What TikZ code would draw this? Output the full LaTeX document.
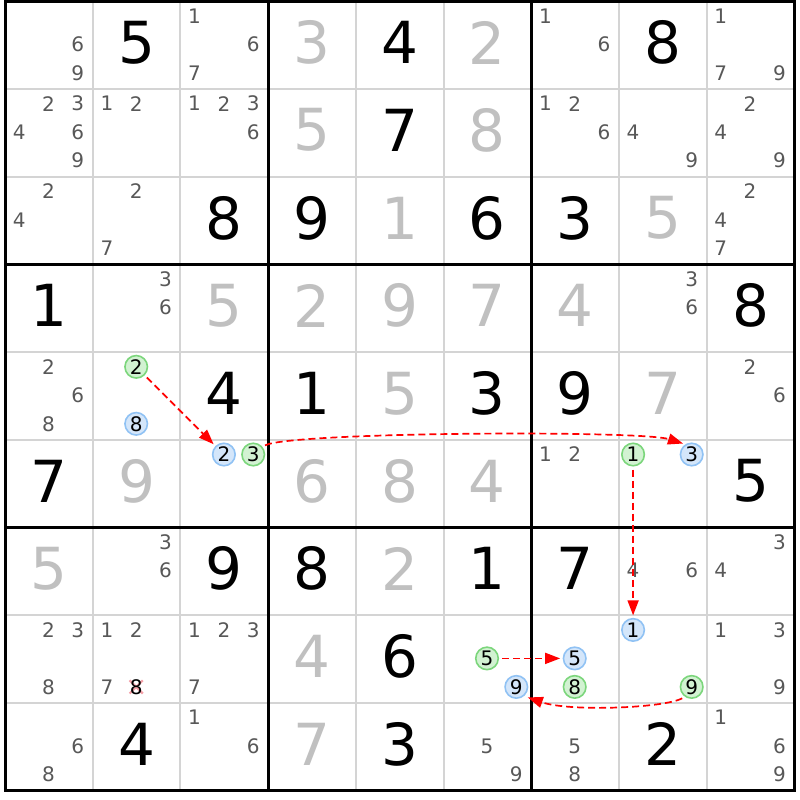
\documentclass[tikz,border=0pt]{standalone}
\usepackage{fontspec}
\usetikzlibrary{arrows.meta,shapes.misc}
\newfontfamily\dejavu{DejaVu Sans}
\newcommand\bigfont{\dejavu\fontsize{58}{58}\selectfont}
\newcommand\candfont{\dejavu\fontsize{20}{20}\selectfont}
\definecolor{candgray}{HTML}{585858}
\definecolor{givengray}{HTML}{C0C0C0}
\definecolor{gridgray}{HTML}{D4D4D4}
\definecolor{ringgreen}{HTML}{7CD67C}
\definecolor{fillgreen}{HTML}{D2F2D2}
\definecolor{ringblue}{HTML}{90C2F4}
\definecolor{fillblue}{HTML}{D4E6FA}
\definecolor{crosspink}{HTML}{F4A0A8}
\newcommand\gx{5}
\newcommand\gy{1.5}
\newcommand\cellsz{87.7}
\newcommand\cpos[3]{%
  \pgfmathsetmacro\px{\gx+(#2-1)*\cellsz+14.2+mod(#3-1,3)*29.3}%
  \pgfmathsetmacro\py{\gy+(#1-1)*\cellsz+14.5+floor((#3-1)/3)*28.5}}
\newcommand\cands[3]{%
  \foreach \dd in {#3}{%
    \cpos{#1}{#2}{\dd}%
    \node[cand] (k-#1-#2-\dd) at (\px,\py) {\dd};
  }}
\newcommand\ringd[4]{% style r c d
  \cpos{#2}{#3}{#4}%
  \node[#1] (r#2#3#4) at (\px,\py) {#4};}
\newcommand\bigd[4]{% r c digit style
  \node[#4] (n-#1-#2) at ({\gx+(#2-0.5)*\cellsz},{\gy+(#1-1)*\cellsz+41}) {#3};}
\tikzset{
  cand/.style={font=\candfont, text=candgray, inner sep=0pt},
  solved/.style={font=\bigfont, text=black, inner sep=0pt},
  given/.style={font=\bigfont, text=givengray, inner sep=0pt},
  gring/.style={circle, draw=ringgreen, fill=fillgreen, line width=1.6pt,
    minimum size=22.5pt, inner sep=0pt, font=\candfont, text=black},
  bring/.style={circle, draw=ringblue, fill=fillblue, line width=1.6pt,
    minimum size=22.5pt, inner sep=0pt, font=\candfont, text=black},
  thinline/.style={draw=gridgray, line width=2pt},
  thickline/.style={draw=black, line width=3pt},
  arr/.style={draw=red, line width=1.7pt, dash pattern=on 7pt off 4pt,
    -{Triangle[length=15pt,width=11pt]}, shorten <=3pt, shorten >=2.5pt},
  xmark/.style={cross out, draw=crosspink, line width=2.2pt, minimum size=11pt, inner sep=0pt}
}
\begin{document}
\begin{tikzpicture}[x=1pt,y=-1pt]
\fill[white] (0,0) rectangle (800,800);
\useasboundingbox (0,0) rectangle (800,800);
% grid
\foreach \i in {1,2,4,5,7,8}{
  \draw[thinline] ({\gx+\i*\cellsz},{\gy}) -- ({\gx+\i*\cellsz},{\gy+9*\cellsz});
  \draw[thinline] ({\gx},{\gy+\i*\cellsz}) -- ({\gx+9*\cellsz},{\gy+\i*\cellsz});
}
\foreach \i in {3,6}{
  \draw[thickline] ({\gx+\i*\cellsz},{\gy}) -- ({\gx+\i*\cellsz},{\gy+9*\cellsz});
  \draw[thickline] ({\gx},{\gy+\i*\cellsz}) -- ({\gx+9*\cellsz},{\gy+\i*\cellsz});
}
\draw[thickline] ({\gx},{\gy}) rectangle ({\gx+9*\cellsz},{\gy+9*\cellsz});
% row 1
\cands{1}{1}{6,9} \bigd{1}{2}{5}{solved} \cands{1}{3}{1,6,7} \bigd{1}{4}{3}{given}
\bigd{1}{5}{4}{solved} \bigd{1}{6}{2}{given} \cands{1}{7}{1,6} \bigd{1}{8}{8}{solved}
\cands{1}{9}{1,7,9}
% row 2
\cands{2}{1}{2,3,4,6,9} \cands{2}{2}{1,2} \cands{2}{3}{1,2,3,6} \bigd{2}{4}{5}{given}
\bigd{2}{5}{7}{solved} \bigd{2}{6}{8}{given} \cands{2}{7}{1,2,6} \cands{2}{8}{4,9}
\cands{2}{9}{2,4,9}
% row 3
\cands{3}{1}{2,4} \cands{3}{2}{2,7} \bigd{3}{3}{8}{solved} \bigd{3}{4}{9}{solved}
\bigd{3}{5}{1}{given} \bigd{3}{6}{6}{solved} \bigd{3}{7}{3}{solved} \bigd{3}{8}{5}{given}
\cands{3}{9}{2,4,7}
% row 4
\bigd{4}{1}{1}{solved} \cands{4}{2}{3,6} \bigd{4}{3}{5}{given} \bigd{4}{4}{2}{given}
\bigd{4}{5}{9}{given} \bigd{4}{6}{7}{given} \bigd{4}{7}{4}{given} \cands{4}{8}{3,6}
\bigd{4}{9}{8}{solved}
% row 5
\cands{5}{1}{2,6,8} \ringd{gring}{5}{2}{2} \ringd{bring}{5}{2}{8} \bigd{5}{3}{4}{solved}
\bigd{5}{4}{1}{solved} \bigd{5}{5}{5}{given} \bigd{5}{6}{3}{solved} \bigd{5}{7}{9}{solved}
\bigd{5}{8}{7}{given} \cands{5}{9}{2,6}
% row 6
\bigd{6}{1}{7}{solved} \bigd{6}{2}{9}{given} \ringd{bring}{6}{3}{2} \ringd{gring}{6}{3}{3}
\bigd{6}{4}{6}{given} \bigd{6}{5}{8}{given} \bigd{6}{6}{4}{given} \cands{6}{7}{1,2}
\ringd{gring}{6}{8}{1} \ringd{bring}{6}{8}{3} \bigd{6}{9}{5}{solved}
% row 7
\bigd{7}{1}{5}{given} \cands{7}{2}{3,6} \bigd{7}{3}{9}{solved} \bigd{7}{4}{8}{solved}
\bigd{7}{5}{2}{given} \bigd{7}{6}{1}{solved} \bigd{7}{7}{7}{solved} \cands{7}{8}{4,6}
\cands{7}{9}{3,4}
% row 8
\cands{8}{1}{2,3,8} \cands{8}{2}{1,2,7}
\cpos{8}{2}{8}
\node[xmark] (x828) at (\px,\py) {};
\node[cand, text=black] (k-8-2-8) at (\px,\py) {8};
\cands{8}{3}{1,2,3,7} \bigd{8}{4}{4}{given} \bigd{8}{5}{6}{solved}
\ringd{gring}{8}{6}{5} \ringd{bring}{8}{6}{9}
\ringd{bring}{8}{7}{5} \ringd{gring}{8}{7}{8}
\ringd{bring}{8}{8}{1} \ringd{gring}{8}{8}{9}
\cands{8}{9}{1,3,9}
% row 9
\cands{9}{1}{6,8} \bigd{9}{2}{4}{solved} \cands{9}{3}{1,6} \bigd{9}{4}{7}{given}
\bigd{9}{5}{3}{solved} \cands{9}{6}{5,9} \cands{9}{7}{5,8} \bigd{9}{8}{2}{solved}
\cands{9}{9}{1,6,9}
% arrows
\draw[arr] (r522) -- (r632);
\draw[arr] (r633.40) .. controls (290,432) and (640,430) .. (r683.122);
\draw[arr] (r681) -- (r881);
\draw[arr] (r865) -- (r875);
\draw[arr, shorten >=4pt] (r889.235) .. controls (665,708) and (570,712) .. (r869.310);
\end{tikzpicture}
\end{document}
